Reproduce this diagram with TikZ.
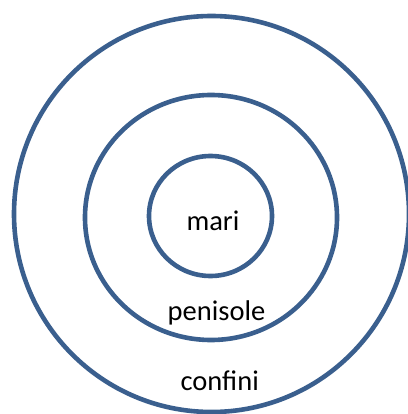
\documentclass[tikz,border=0pt]{standalone}
\usepackage{fontspec}
\setmainfont{Carlito}
\definecolor{ringblue}{HTML}{3A5F8E}
\begin{document}
\begin{tikzpicture}[x=1pt,y=-1pt,
  ring/.style={draw=ringblue,line width=4.6pt},
  lbl/.style={anchor=base,inner sep=0pt,font=\fontsize{28.5}{34}\selectfont,text=black}]
\useasboundingbox (0,0) rectangle (407,414);
\draw[ring] (211.5,214) ellipse [x radius=197.5, y radius=198];
\draw[ring] (211,217.5) ellipse [x radius=126, y radius=122.5];
\draw[ring] (210.5,216) ellipse [x radius=61.5, y radius=60];
\node[lbl] (mari) at (213,230.7) {mari};
\node[lbl] (penisole) at (216.5,320) {penisole};
\node[lbl] (confini) at (219.7,390.7) {confini};
\end{tikzpicture}
\end{document}
